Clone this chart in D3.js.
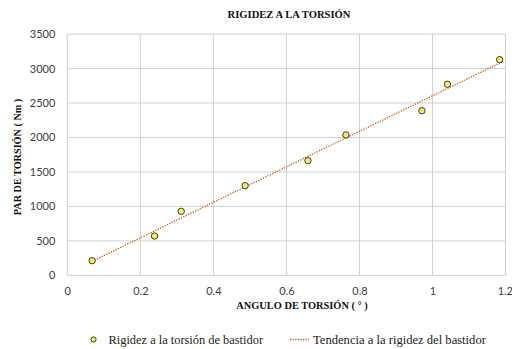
<!DOCTYPE html>
<html>
<head>
<meta charset="utf-8">
<script src="https://cdn.jsdelivr.net/npm/d3@7"></script>
<style>
  body { margin: 0; background: #fff; }
  svg { display: block; }
</style>
</head>
<body>
<div class="chart"></div>
<script>
// angle (degrees) and torque (Nm)
var angulos = [0.068, 0.239, 0.312, 0.487, 0.659, 0.763, 0.971, 1.041, 1.184];
var pares = [213, 571, 929, 1301, 1663, 2036, 2388, 2771, 3128];
var xTicks = [0, 0.2, 0.4, 0.6, 0.8, 1, 1.2];
var yTicks = [0, 500, 1000, 1500, 2000, 2500, 3000, 3500];

var chartWidth = 512;
var chartHeight = 349;
var serif = "'Liberation Serif', 'DejaVu Serif', 'Times New Roman', serif";
var sans = "Lato, 'Open Sans', 'DejaVu Sans', sans-serif";

var svg = d3.select(".chart")
  .append("svg")
  .attr("width", chartWidth)
  .attr("height", chartHeight);

var x = d3.scaleLinear().domain([0, 1.2]).range([67.3, 505.5]);
var y = d3.scaleLinear().domain([0, 3500]).range([275.4, 34]);

// gridlines
svg.append("g").selectAll("line")
  .data(xTicks)
  .enter()
  .append("line")
  .attr("x1", function(d) { return x(d); })
  .attr("x2", function(d) { return x(d); })
  .attr("y1", y(0))
  .attr("y2", y(3500))
  .attr("stroke", "#d0d0d0")
  .attr("stroke-width", 1);

svg.append("g").selectAll("line")
  .data(yTicks)
  .enter()
  .append("line")
  .attr("x1", x(0))
  .attr("x2", x(1.2))
  .attr("y1", function(d) { return y(d); })
  .attr("y2", function(d) { return y(d); })
  .attr("stroke", "#d0d0d0")
  .attr("stroke-width", 1);

// axes (labels only)
var xAxis = svg.append("g")
  .attr("transform", "translate(0," + y(0) + ")")
  .call(d3.axisBottom(x).tickValues(xTicks).tickSize(0).tickPadding(12).tickFormat(d3.format("~g")));
var yAxis = svg.append("g")
  .attr("transform", "translate(" + x(0) + ",0)")
  .call(d3.axisLeft(y).tickValues(yTicks).tickSize(0).tickPadding(12).tickFormat(d3.format("d")));
[xAxis, yAxis].forEach(function(g) {
  g.select(".domain").remove();
  g.selectAll("text")
    .attr("fill", "#404040")
    .style("font-family", sans)
    .style("font-size", "11px");
});
// last x label sits against the right edge, as in the reference
xAxis.selectAll("text").filter(function(d) { return d === 1.2; })
  .attr("text-anchor", "end")
  .attr("x", 7);

// linear trend from the points
var n = angulos.length;
var mx = d3.mean(angulos), my = d3.mean(pares);
var sxy = 0, sxx = 0;
for (var i = 0; i < n; i++) {
  sxy += (angulos[i] - mx) * (pares[i] - my);
  sxx += (angulos[i] - mx) * (angulos[i] - mx);
}
var pend = sxy / sxx;
var orig = my - pend * mx;
var xExt = d3.extent(angulos);
var tendencia = xExt.map(function(a) { return [a, orig + pend * a]; });

svg.append("path")
  .datum(tendencia)
  .attr("d", d3.line().x(function(d) { return x(d[0]); }).y(function(d) { return y(d[1]); }))
  .attr("fill", "none")
  .attr("stroke", "#c55a11")
  .attr("stroke-width", 1.3)
  .attr("stroke-dasharray", "1.3,1.3");

// points
svg.append("g").selectAll("circle")
  .data(angulos)
  .enter()
  .append("circle")
  .attr("cx", function(d) { return x(d); })
  .attr("cy", function(d, i) { return y(pares[i]); })
  .attr("r", 3.2)
  .attr("fill", "#f7ec6a")
  .attr("stroke", "#3a3a3a")
  .attr("stroke-width", 1);

// title and axis titles
function titulo(sel) {
  return sel.attr("text-anchor", "middle")
    .attr("font-family", serif)
    .attr("font-weight", "bold")
    .attr("font-size", "10.6px")
    .attr("fill", "#111");
}
svg.append("text").attr("x", 289).attr("y", 18)
  .call(titulo).text("RIGIDEZ A LA TORSIÓN");
svg.append("text").attr("x", 302).attr("y", 309)
  .call(titulo).attr("font-size", "10.4px").text("ANGULO DE TORSIÓN ( ° )");
svg.append("text").attr("transform", "translate(21,157) rotate(-90)")
  .call(titulo).attr("font-size", "10.2px").text("PAR DE TORSIÓN ( Nm )");

// legend
var legend = svg.append("g");
legend.append("circle")
  .attr("cx", 93.5)
  .attr("cy", 339.5)
  .attr("r", 2.6)
  .attr("fill", "#f7ec6a")
  .attr("stroke", "#3a3a3a")
  .attr("stroke-width", 1);
legend.append("text")
  .attr("x", 108.5)
  .attr("y", 343.5)
  .attr("font-family", serif)
  .attr("font-size", "12.4px")
  .attr("fill", "#222")
  .text("Rigidez a la torsión de bastidor");
legend.append("line")
  .attr("x1", 290)
  .attr("x2", 309)
  .attr("y1", 339.5)
  .attr("y2", 339.5)
  .attr("stroke", "#c55a11")
  .attr("stroke-width", 1.3)
  .attr("stroke-dasharray", "1.3,1.3");
legend.append("text")
  .attr("x", 313)
  .attr("y", 343.5)
  .attr("font-family", serif)
  .attr("font-size", "12.6px")
  .attr("fill", "#222")
  .text("Tendencia a la rigidez del bastidor");
</script>
</body>
</html>
